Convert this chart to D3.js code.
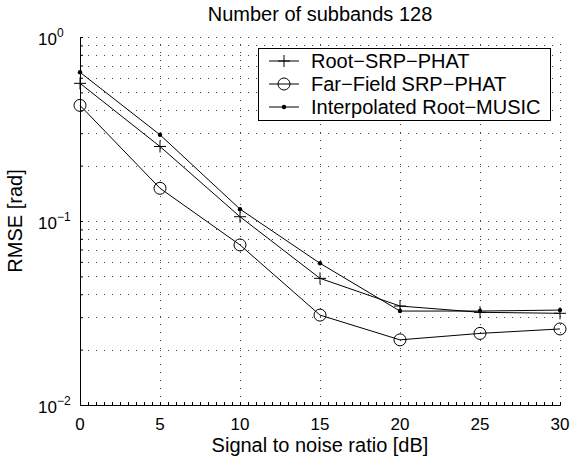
<!DOCTYPE html>
<html>
<head>
<meta charset="utf-8">
<script src="https://cdn.jsdelivr.net/npm/d3@7"></script>
<style>
  body { margin: 0; background: #fff; }
  svg { display: block; font-family: 'Liberation Sans', Arial, Helvetica, sans-serif; }
</style>
</head>
<body>
<div id="chart"></div>
<script>
// data
const snr = [0, 5, 10, 15, 20, 25, 30];
const rootSrp = [0.560, 0.254, 0.1055, 0.0488, 0.0345, 0.0319, 0.0315];
const farField = [0.425, 0.1506, 0.0741, 0.0308, 0.0226, 0.0245, 0.0259];
const rootMusic = [0.643, 0.294, 0.116, 0.0589, 0.0324, 0.0324, 0.0328];
const seriesNames = ['Root\u2212SRP\u2212PHAT', 'Far\u2212Field SRP\u2212PHAT', 'Interpolated Root\u2212MUSIC'];
const xTicks = [0, 5, 10, 15, 20, 25, 30];
const yTickExp = [0, -1, -2];

const W = 572, H = 459;
const margin = { top: 37, right: 12, bottom: 54, left: 80 };

const x = d3.scaleLinear().domain([0, 30]).range([margin.left, W - margin.right]);
const y = d3.scaleLog().domain([0.01, 1]).range([H - margin.bottom, margin.top]);

const svg = d3.select('#chart').append('svg')
  .attr('width', W).attr('height', H);

// log grid values (1..9 in each decade plus the top decade)
const logGrid = [];
[0.01, 0.1].forEach(d => { for (let k = 1; k <= 10; k++) logGrid.push(d * k); });
const uniqGrid = Array.from(new Set(logGrid.map(v => +v.toPrecision(3))));

// dotted grid
const grid = svg.append('g').attr('stroke', '#444').attr('stroke-width', 1)
  .attr('stroke-dasharray', '1,7').attr('shape-rendering', 'crispEdges');
uniqGrid.filter(v => v > 0.01).forEach(v => {
  grid.append('line')
    .attr('x1', x(0)).attr('x2', x(30))
    .attr('y1', Math.round(y(v)) + 0.5).attr('y2', Math.round(y(v)) + 0.5);
});
xTicks.filter(v => v > 0).forEach(v => {
  grid.append('line')
    .attr('x1', Math.round(x(v)) + 0.5).attr('x2', Math.round(x(v)) + 0.5)
    .attr('y1', y(0.01)).attr('y2', y(1));
});

// axes: left and bottom only, ticks pointing inward
svg.append('g')
  .attr('transform', `translate(0,${y(0.01)})`)
  .call(d3.axisTop(x).tickValues(d3.range(0, 30.01, 0.5)).tickSize(3).tickFormat(''))
  .call(a => a.selectAll('line,path').attr('stroke', '#000'));

svg.append('g')
  .attr('transform', `translate(${x(0)},0)`)
  .call(d3.axisRight(y).tickValues(uniqGrid).tickSize(3).tickFormat(''))
  .call(a => a.selectAll('line,path').attr('stroke', '#000'));

// tick labels
svg.append('g').selectAll('text').data(xTicks).join('text')
  .attr('x', d => x(d)).attr('y', y(0.01) + 25)
  .attr('text-anchor', 'middle').attr('font-size', 17)
  .text(d => d);

const yLab = svg.append('g').selectAll('text').data(yTickExp).join('text')
  .attr('x', 38).attr('y', d => y(Math.pow(10, d)) + 8)
  .attr('font-size', 17);
yLab.append('tspan').text('10');
yLab.append('tspan').attr('font-size', 12).attr('dy', -8)
  .text(d => String(d).replace('-', '\u2212'));

// titles
svg.append('text').attr('x', (x(0) + x(30)) / 2).attr('y', 21)
  .attr('text-anchor', 'middle').attr('font-size', 20)
  .text('Number of subbands 128');
svg.append('text').attr('x', (x(0) + x(30)) / 2).attr('y', 452)
  .attr('text-anchor', 'middle').attr('font-size', 20)
  .text('Signal to noise ratio [dB]');
svg.append('text')
  .attr('transform', `translate(22,${(y(1) + y(0.01)) / 2}) rotate(-90)`)
  .attr('text-anchor', 'middle').attr('font-size', 20)
  .text('RMSE [rad]');

// series
const series = [
  { name: seriesNames[0], values: rootSrp, marker: 'plus' },
  { name: seriesNames[1], values: farField, marker: 'circle' },
  { name: seriesNames[2], values: rootMusic, marker: 'dot' },
];

const line = d3.line().x(d => x(d[0])).y(d => y(d[1]));

function drawMarker(g, kind, cx, cy) {
  if (kind === 'plus') {
    g.append('path').attr('d', `M${cx - 6},${cy}H${cx + 6}M${cx},${cy - 6}V${cy + 6}`)
      .attr('stroke', '#000').attr('stroke-width', 1).attr('fill', 'none');
  } else if (kind === 'circle') {
    g.append('circle').attr('cx', cx).attr('cy', cy).attr('r', 6)
      .attr('stroke', '#000').attr('stroke-width', 1).attr('fill', 'none');
  } else {
    g.append('circle').attr('cx', cx).attr('cy', cy).attr('r', 2.2).attr('fill', '#000');
  }
}

const plot = svg.append('g');
series.forEach(s => {
  const pts = snr.map((v, i) => [v, s.values[i]]);
  plot.append('path').attr('d', line(pts))
    .attr('fill', 'none').attr('stroke', '#000').attr('stroke-width', 1);
  pts.forEach(p => drawMarker(plot, s.marker, x(p[0]), y(p[1])));
});

// legend
const leg = svg.append('g').attr('transform', 'translate(258,48)');
leg.append('rect').attr('x', 0.5).attr('y', 0.5).attr('width', 292).attr('height', 72)
  .attr('fill', '#fff').attr('stroke', '#000').attr('stroke-width', 1);
series.forEach((s, i) => {
  const ry = 13 + i * 23;
  leg.append('line').attr('x1', 11).attr('x2', 41).attr('y1', ry).attr('y2', ry)
    .attr('stroke', '#000').attr('stroke-width', 1);
  drawMarker(leg, s.marker, 26, ry);
  leg.append('text').attr('x', 53).attr('y', ry + 7).attr('font-size', 20).text(s.name);
});
</script>
</body>
</html>
